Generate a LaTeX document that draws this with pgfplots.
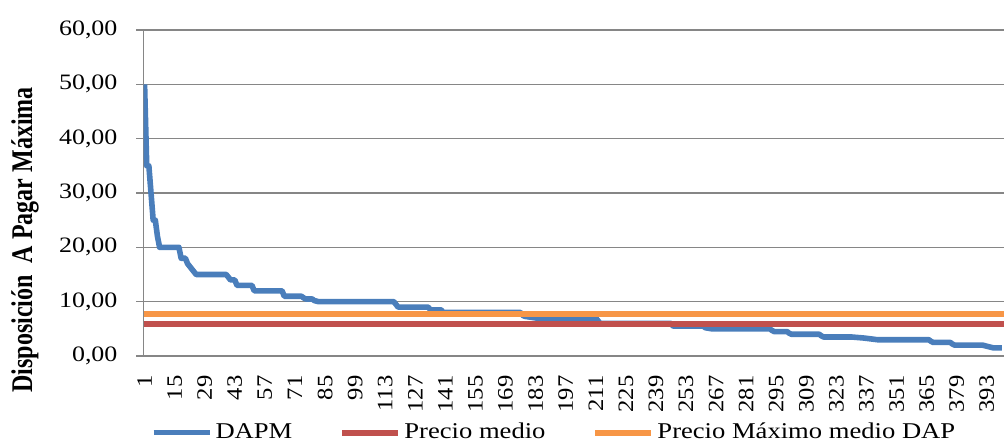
\documentclass[border=0pt]{standalone}
\usepackage{fontspec}
\setmainfont[FakeStretch=1.18]{Liberation Serif}
\newfontfamily\tickfont[FakeStretch=1.12]{Liberation Serif}
\newfontfamily\labelfont[FakeStretch=0.8]{Liberation Serif}
\usepackage{pgfplots}
\pgfplotsset{compat=1.18}
\definecolor{cblue}{HTML}{4A7EBB}
\definecolor{cred}{HTML}{C0504D}
\definecolor{corange}{HTML}{F79646}
\definecolor{cgrid}{HTML}{868686}
\begin{document}
\begin{tikzpicture}
\begin{axis}[
  at={(71.75bp,43bp)}, anchor=south west,
  scale only axis, width=430.25bp, height=163bp,
  xmin=0.5, xmax=401, ymin=0, ymax=60,
  axis x line*=bottom, axis y line*=left,
  axis line style={cgrid, line width=0.8bp},
  ytick={0,10,...,60},
  ymajorgrids, grid style={cgrid, line width=0.8bp},
  tick align=outside,
  ytick style={cgrid, line width=0.8bp},
  major tick length=3.5bp,
  xtick={1,15,...,393},
  xtick style={draw=none},
  minor xtick={0.5,1.5,...,400.5},
  minor tick length=4.5bp,
  minor x tick style={cgrid, line width=0.5bp},
  xticklabel style={font=\tickfont\fontsize{11bp}{13bp}\selectfont, rotate=90, anchor=east, inner xsep=0bp, xshift=-6bp},
  yticklabel style={font=\fontsize{11bp}{13bp}\selectfont, xshift=-6bp},
  yticklabel={\pgfmathprintnumber[fixed,fixed zerofill,precision=2,use comma,assume math mode=true]{\tick}},
  x tick label style={/pgf/number format/assume math mode=true},
  ylabel={Disposición\ \ A Pagar Máxima},
  every axis y label/.style={at={(axis description cs:-0.1377,0.356)}, rotate=90, anchor=center, font=\labelfont\bfseries\fontsize{15bp}{17bp}\selectfont},
  legend style={at={(axis description cs:0.4777,-0.235)}, anchor=center, draw=none, fill=none,
    font=\fontsize{11.27bp}{13bp}\selectfont, legend columns=3,
    nodes={inner xsep=1.5bp},
    /tikz/every even column/.append style={column sep=22bp}},
  legend cell align=left,
  legend image code/.code={\draw[#1] (0bp,0bp) -- (28bp,0bp);},
]
\addplot[cblue, line width=2.8bp, line join=round] coordinates {
(1,50) (2,35) (3,35) (4,30) (5,25) (6,25) (7,22) (8,20) (17,20) (18,18) (20,18)
(21,17) (22,16.5) (23,16) (24,15.5) (25,15) (39,15) (40,14.5) (41,14) (43,14)
(44,13) (51,13) (52,12) (65,12) (66,11) (74,11) (75,10.7) (76,10.5) (79,10.5)
(80,10.2) (82,10) (117,10) (118,9.5) (119,9) (133,9) (134,8.5) (139,8.5) (140,8)
(176,8) (177,7.5) (178,7.3) (183,7) (211,7) (212,6.5) (213,6) (246,6) (247,5.5)
(261,5.5) (262,5.2) (265,5) (292,5) (293,4.7) (294,4.5) (300,4.5) (301,4.2)
(302,4) (315,4) (316,3.7) (317,3.5) (330,3.5) (336,3.3) (342,3) (366,3) (367,2.7)
(368,2.5) (376,2.5) (377,2.2) (378,2) (391,2) (394,1.7) (396,1.5) (400,1.5)
};
\addlegendentry{DAPM}
\addplot[cred, line width=3bp] coordinates {(0.5,5.87) (401,5.87)};
\addlegendentry{Precio medio}
\addplot[corange, line width=3bp] coordinates {(0.5,7.7) (401,7.7)};
\addlegendentry{Precio Máximo medio DAP}
\end{axis}
\pgfresetboundingbox
\path[use as bounding box] (0,0) rectangle (502bp,221bp);
\end{tikzpicture}
\end{document}
